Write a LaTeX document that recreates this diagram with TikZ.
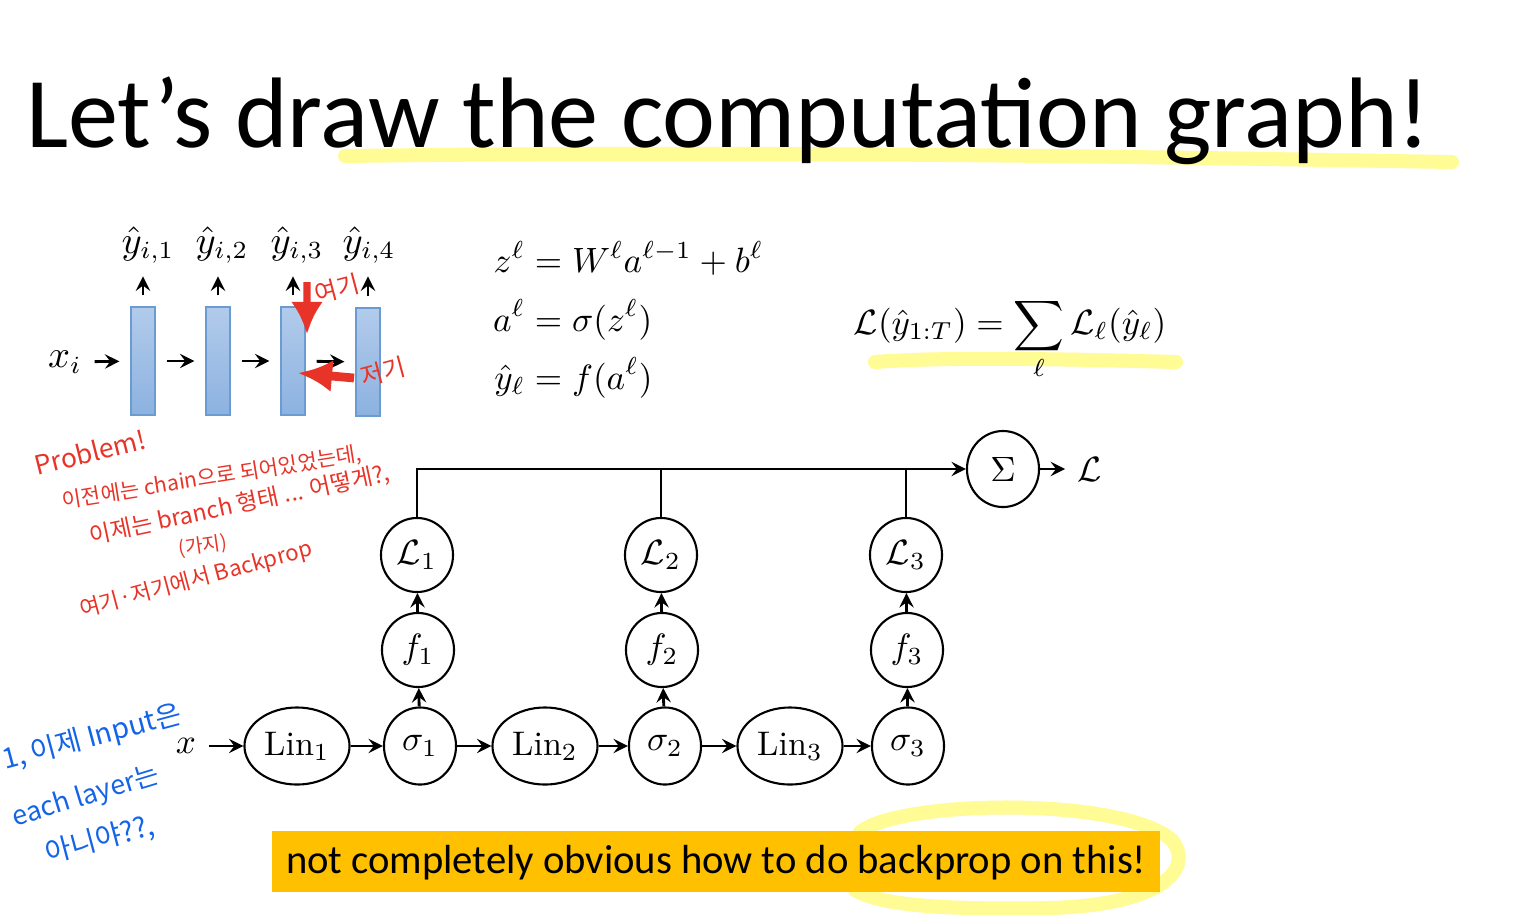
\documentclass[tikz,border=0pt]{standalone}
\usepackage{amsmath}
\usepackage{fontspec}
\usepackage{tikz}
\usetikzlibrary{shapes.geometric,arrows.meta}

\newfontfamily\slidefont{Carlito}
\newfontfamily\hand{Noto Sans CJK KR}

\definecolor{barline}{RGB}{108,155,210}
\definecolor{bartop}{RGB}{178,203,235}
\definecolor{barbot}{RGB}{140,178,224}
\definecolor{handred}{RGB}{232,52,40}
\definecolor{handblue}{RGB}{20,100,232}
\definecolor{hilite}{RGB}{255,250,130}
\definecolor{boxorange}{RGB}{255,192,0}

\begin{document}
\begin{tikzpicture}[
    x=0.01cm, y=-0.01cm,
    >=stealth, semithick,
    op/.style={ellipse, draw, minimum width=0.72cm, minimum height=0.77cm, inner sep=0pt, font=\fontsize{9.7}{12}\selectfont},
    lin/.style={op, minimum width=1.05cm},
    bar/.style={draw=barline, top color=bartop, bottom color=barbot, minimum width=0.24cm, minimum height=1.08cm, inner sep=0pt},
    rednote/.style={text=handred, font=\hand\fontsize{6}{7}\selectfont, inner sep=0pt},
    bluenote/.style={text=handblue, font=\hand\fontsize{8}{10}\selectfont, inner sep=0pt},
    marker/.style={draw=hilite, line width=0.14cm, line cap=round, opacity=0.85}
  ]
    \useasboundingbox (0,0) rectangle (1536,914);

    % highlighter strokes
    \draw[marker] (345,156) .. controls (800,150) and (1200,158) .. (1452,162);
    \draw[marker] (875,362) .. controls (950,356) and (1100,360) .. (1176,362);
    \draw[marker] (860,832) .. controls (900,800) and (1120,796) .. (1172,840)
                  .. controls (1195,870) and (1160,905) .. (1050,908)
                  .. controls (940,910) and (880,905) .. (855,890);

    % title
    \node[anchor=base west, inner sep=0pt, font=\slidefont\fontsize{28.5}{32}\selectfont] (title) at (25,147) {Let’s draw the computation graph!};

    % small network
    \begin{scope}[every node/.append style={font=\fontsize{10.5}{12}\selectfont}]
      \node (xi) at (65,362) {$x_i$};
      \node[bar] (b1) at (143,361) {};
      \node[bar] (b2) at (218,361) {};
      \node[bar] (b3) at (293,361) {};
      \node[bar] (b4) at (368,362) {};
      \node (y1) at (148,245) {$\hat{y}_{i,1}$};
      \node (y2) at (222,245) {$\hat{y}_{i,2}$};
      \node (y3) at (297,245) {$\hat{y}_{i,3}$};
      \node (y4) at (369,245) {$\hat{y}_{i,4}$};
    \end{scope}
    \draw[->, thick, shorten >=3pt] (xi) -- (b1);
    \draw[->, thick, shorten <=3pt, shorten >=3pt] (b1) -- (b2);
    \draw[->, thick, shorten <=3pt, shorten >=3pt] (b2) -- (b3);
    \draw[->, thick, shorten <=3pt, shorten >=3pt] (b3) -- (b4);
    \foreach \i in {1,...,4}
      \draw[->, thick, shorten <=3pt] (b\i.north) -- (b\i.north |- y\i.south);

    % equations
    \node[anchor=north west, inner sep=0pt, font=\fontsize{9.7}{12}\selectfont] (eqs) at (492,240)
      {$\begin{aligned} z^\ell &= W^\ell a^{\ell-1} + b^\ell \\[0pt] a^\ell &= \sigma(z^\ell) \\[0pt] \hat{y}_\ell &= f(a^\ell) \end{aligned}$};
    \node[inner sep=0pt, font=\fontsize{9.8}{12}\selectfont] (loss) at (1010,339)
      {$\displaystyle \mathcal{L}(\hat{y}_{1:T}) = \sum_\ell \mathcal{L}_\ell(\hat{y}_\ell)$};

    % computation graph
    \node[font=\fontsize{9.7}{12}\selectfont] (x) at (186,746) {$x$};
    \node[lin] (lin1) at (297,746) {$\mathrm{Lin}_1$};
    \node[op] (s1) at (420,746) {$\sigma_1$};
    \node[lin] (lin2) at (545,746) {$\mathrm{Lin}_2$};
    \node[op] (s2) at (665,746) {$\sigma_2$};
    \node[lin] (lin3) at (790,746) {$\mathrm{Lin}_3$};
    \node[op] (s3) at (908,746) {$\sigma_3$};
    \node[op, minimum height=0.74cm] (f1) at (418,650) {$f_1$};
    \node[op, minimum height=0.74cm] (f2) at (662,650) {$f_2$};
    \node[op, minimum height=0.74cm] (f3) at (907,650) {$f_3$};
    \node[op, minimum height=0.74cm] (L1) at (417,555) {$\mathcal{L}_1$};
    \node[op, minimum height=0.74cm] (L2) at (661,555) {$\mathcal{L}_2$};
    \node[op, minimum height=0.74cm] (L3) at (906,555) {$\mathcal{L}_3$};
    \node[op, minimum height=0.76cm] (sum) at (1003,469) {$\Sigma$};
    \node[font=\fontsize{9.7}{12}\selectfont] (out) at (1090,469) {$\mathcal{L}$};

    \draw[->, thick] (x) -- (lin1);
    \draw[->, thick] (lin1) -- (s1);
    \draw[->, thick] (s1) -- (lin2);
    \draw[->, thick] (lin2) -- (s2);
    \draw[->, thick] (s2) -- (lin3);
    \draw[->, thick] (lin3) -- (s3);
    \foreach \i in {1,2,3} {
      \draw[->, thick] (s\i) -- (f\i);
      \draw[->, thick] (f\i) -- (L\i);
    }
    \draw[->, thick] (L1.north) |- (sum.west);
    \draw[thick] (L2.north) -- (L2.north |- sum.west);
    \draw[thick] (L3.north) -- (L3.north |- sum.west);
    \draw[->, thick] (sum) -- (out);

    % red notes
    \coordinate (p1) at (307,282);
    \coordinate (p2) at ([xshift=0.14cm, yshift=-0.28cm]b3.north);
    \coordinate (p3) at (354,378);
    \coordinate (p4) at ([xshift=-0.08cm, yshift=-0.12cm]b3.east);
    \draw[handred, line width=2pt, -{Latex[length=0.32cm, width=0.32cm]}] (p1) -- (p2);
    \draw[handred, line width=2.5pt, -{Latex[length=0.34cm, width=0.32cm]}] (p3) -- (p4);
    \node[rednote, rotate=15, font=\hand\fontsize{7}{8}\selectfont] (here) at (337,289) {여기};
    \node[rednote, rotate=15, font=\hand\fontsize{7}{8}\selectfont] (there) at (383,372) {저기};
    \node[rednote, rotate=14, font=\hand\fontsize{7.5}{9}\selectfont] (prob) at (90,452) {Problem!};
    \node[rednote, rotate=9] (note1) at (212,478) {이전에는 chain으로 되어있었는데,};
    \node[rednote, rotate=12, font=\hand\fontsize{6.6}{8}\selectfont] (note2) at (240,505) {이제는 branch 형태 ... 어떻게?,};
    \node[rednote, rotate=8, font=\hand\fontsize{5.5}{6}\selectfont] (gaji) at (203,546) {(가지)};
    \node[rednote, rotate=15, font=\hand\fontsize{6.3}{8}\selectfont] (note3) at (196,580) {여기·저기에서 Backprop};

    % blue notes
    \node[bluenote, rotate=15] (blue1) at (92,738) {1, 이제 Input은};
    \node[bluenote, rotate=17, font=\hand\fontsize{7.6}{9}\selectfont] (blue2) at (86,797) {each layer는};
    \node[bluenote, rotate=15] (blue3) at (100,840) {아니야??,};

    % bottom box
    \node[fill=boxorange, minimum width=8.88cm, minimum height=0.61cm, inner sep=0pt] (msg) at (716,861) {};
    \node[anchor=west, inner sep=0pt, font=\slidefont\fontsize{11.55}{14}\selectfont] (msgtext) at (285,863) {not completely obvious how to do backprop on this!};
  \end{tikzpicture}
\end{document}
